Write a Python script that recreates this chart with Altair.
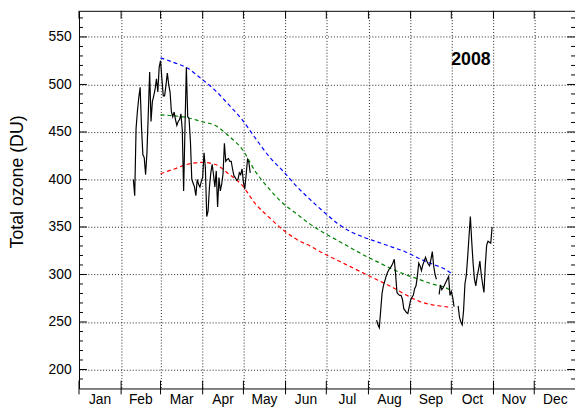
import altair as alt
import pandas as pd

# ---------------- data ----------------
month_names = ["Jan", "Feb", "Mar", "Apr", "May", "Jun", "Jul", "Aug", "Sep", "Oct", "Nov", "Dec"]
month_starts = [0, 31, 60, 91, 121, 152, 182, 213, 244, 274, 305, 335]
month_ends = month_starts[1:] + [366]
y_major = [200, 250, 300, 350, 400, 450, 500, 550]
y_minor = [v for v in range(190, 580, 10) if v not in y_major]

# daily total ozone, 2008 (day of year, DU), in unbroken pieces
segA_days = list(range(40, 127))
segA_vals = [400, 383, 454, 472, 486, 497, 455, 426, 423, 405, 428, 470, 513, 461, 482,
             488, 495, 506, 492, 518, 525, 506, 488, 488, 499, 512, 500, 492, 471, 466,
             471, 463, 457, 461, 463, 469, 452, 388, 455, 518, 466, 464, 440, 400, 396,
             392, 383, 400, 395, 392, 398, 402, 428, 412, 361, 367, 392, 407, 416, 405,
             392, 409, 371, 402, 388, 395, 406, 438, 419, 421, 422, 419, 419, 411, 404,
             402, 399, 400, 407, 405, 411, 397, 390, 405, 421, 418, 407]
segB_days = list(range(219, 264))
segB_vals = [252, 247, 244, 262, 280, 288, 293, 298, 302, 305, 307, 309, 312, 316, 300,
             281, 279, 278, 278, 274, 264, 262, 260, 259, 266, 273, 276, 278, 285, 288,
             298, 312, 309, 304, 310, 314, 318, 314, 311, 309, 316, 324, 309, 300, 295]
segC_days = list(range(265, 277))
segC_vals = [279, 289, 284, 286, 289, 292, 295, 298, 278, 282, 276, 266]
segD_days = list(range(279, 305))
segD_vals = [267, 255, 250, 247, 262, 290, 299, 318, 340, 361, 335, 312, 295, 288, 298,
             305, 314, 300, 290, 281, 310, 331, 335, 334, 333, 350]

# climatological curves (max / mean / min)
curve_days = [60, 70, 80, 90, 100, 110, 120, 130, 140, 150, 160, 170, 180, 190, 200,
              210, 220, 230, 240, 250, 260, 270, 274]
curve_max = [528, 523, 517, 506, 494, 479, 463, 443, 424, 409, 393, 379, 366, 354, 345,
             339, 334, 329, 324, 317, 311, 305, 301]
curve_mean = [468, 467, 465, 461, 457, 446, 432, 408, 390, 375, 364, 353, 344, 336, 328,
              320, 313, 306, 300, 295, 290, 286, 283]
curve_min = [406, 411, 416, 418, 416, 406, 394, 374, 360, 347, 337, 330, 322, 315, 308,
             301, 294, 287, 279, 272, 268, 266, 265]

year_label = "2008"
y_title = "Total ozone (DU)"

# ---------------- tables ----------------
rows = []
for seg, (d, v) in enumerate([(segA_days, segA_vals), (segB_days, segB_vals),
                              (segC_days, segC_vals), (segD_days, segD_vals)]):
    for di, vi in zip(d, v):
        rows.append({"day": di, "ozone": vi, "seg": seg})
obs = pd.DataFrame(rows)

crows = []
for name, vals in [("max", curve_max), ("mean", curve_mean), ("min", curve_min)]:
    for d, v in zip(curve_days, vals):
        crows.append({"day": d, "ozone": v, "series": name})
curves = pd.DataFrame(crows)

months = pd.DataFrame({
    "name": month_names,
    "mid": [(a + b) / 2 for a, b in zip(month_starts, month_ends)],
})
mticks = pd.DataFrame({"day": month_starts})
ymaj = pd.DataFrame({"ozone": y_major})
ymin = pd.DataFrame({"ozone": y_minor})

# ---------------- chart ----------------
W, H = 503, 383
FONT = "Liberation Sans"
xs = alt.Scale(domain=[0, 365], nice=False, zero=False)
ys = alt.Scale(domain=[180, 577.5], nice=False, zero=False)

grid_kw = dict(grid=True, gridDash=[1, 2], gridColor="#222", gridWidth=1, ticks=False, domain=False)
x_axis = alt.Axis(values=month_starts[1:], labels=False, title=None, **grid_kw)
y_axis = alt.Axis(values=y_major, title=None, labelPadding=8, labelFontSize=14, labelFont=FONT,
                  labelColor="black", **grid_kw)
X = lambda f: alt.X(f, scale=xs, axis=x_axis)
Y = lambda f: alt.Y(f, scale=ys, axis=y_axis)

curve_layer = alt.Chart(curves).mark_line(
    strokeDash=[4, 3], strokeWidth=1.2, interpolate="monotone"
).encode(
    x=X("day:Q"),
    y=Y("ozone:Q"),
    color=alt.Color("series:N", scale=alt.Scale(domain=["max", "mean", "min"],
                                                range=["#0000ff", "#008000", "#ff0000"]), legend=None),
    detail="series:N",
)

obs_layer = alt.Chart(obs).mark_line(color="black", strokeWidth=1.2).encode(
    x=X("day:Q"), y=Y("ozone:Q"), detail="seg:N",
)

bottom_ticks = alt.Chart(mticks).mark_rule(color="black", strokeWidth=1).encode(
    x=X("day:Q"), y=alt.value(H - 8), y2=alt.value(H + 6))
top_ticks = alt.Chart(mticks).mark_rule(color="black", strokeWidth=1).encode(
    x=X("day:Q"), y=alt.value(0), y2=alt.value(8))

def yticks(df, x0, x1):
    return alt.Chart(df).mark_rule(color="black", strokeWidth=1).encode(
        y=Y("ozone:Q"), x=alt.value(x0), x2=alt.value(x1))

ytick_layers = [yticks(ymaj, 0, 8), yticks(ymin, 0, 4), yticks(ymaj, W - 8, W), yticks(ymin, W - 4, W)]

month_text = alt.Chart(months).mark_text(
    fontSize=14, font=FONT, color="black", align="center", baseline="middle"
).encode(x=X("mid:Q"), y=alt.value(H + 12), text="name:N")

title_text = alt.Chart(pd.DataFrame({"t": [y_title]})).mark_text(
    fontSize=18, font=FONT, color="black", angle=270, align="center", baseline="middle"
).encode(x=alt.value(-62), y=alt.value(173.5), text="t:N")

year_text = alt.Chart(pd.DataFrame({"t": [year_label]})).mark_text(
    fontSize=18, font=FONT, fontWeight="bold", color="black", align="center", baseline="middle"
).encode(x=alt.value(397.5), y=alt.value(50), text="t:N")

chart = alt.layer(
    curve_layer, obs_layer, bottom_ticks, top_ticks, *ytick_layers, month_text, title_text, year_text
).properties(
    width=W, height=H,
    padding={"left": 72, "top": 0, "right": 0, "bottom": 22},
    autosize=alt.AutoSizeParams(type="none"),
).configure_view(stroke="black", strokeWidth=1)

chart.save("out.html", embed_options={"renderer": "svg", "actions": False})
